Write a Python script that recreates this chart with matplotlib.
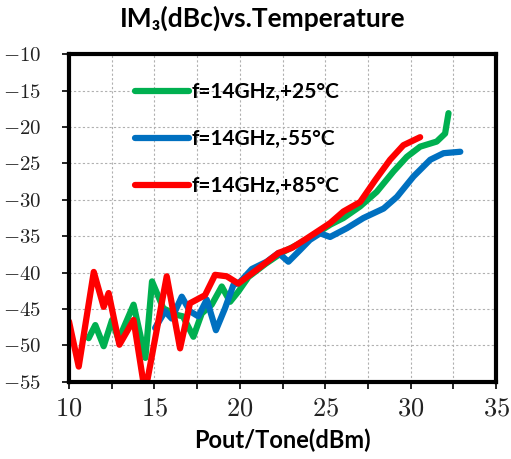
import numpy as np
import matplotlib
matplotlib.use("Agg")
import matplotlib.pyplot as plt
from matplotlib.ticker import MultipleLocator

# +25 C (green)
x_25 = [11.15, 11.54, 12.03, 12.52, 12.9, 13.78, 14.47, 14.86, 15.52, 16.3, 16.67,
        17.28, 17.77, 18.35, 18.94, 19.43, 19.91, 20.5, 21.5, 22.5, 23.5, 24.5,
        25.3, 26.06, 27.04, 28.01, 28.99, 29.77, 30.55, 31.52, 32.01, 32.21]
y_25 = [-49.0, -47.2, -50.1, -46.5, -49.2, -44.4, -51.7, -41.2, -44.9, -45.8, -46.0,
        -48.8, -45.6, -44.4, -41.9, -44.0, -42.6, -40.6, -38.8, -37.2, -36.0, -34.6,
        -33.4, -32.5, -30.9, -28.9, -26.1, -24.1, -22.7, -22.0, -20.9, -18.1]

# -55 C (blue)
x_m55 = [15.04, 15.62, 16.01, 16.6, 17.08, 17.57, 18.06, 18.6, 19.13, 19.62, 20.0,
         20.7, 21.57, 22.26, 22.84, 23.52, 24.1, 24.7, 25.28, 26.26, 27.23, 28.41,
         29.19, 30.16, 31.14, 31.92, 32.9]
y_m55 = [-47.6, -45.3, -46.3, -43.3, -45.3, -46.0, -43.7, -47.9, -44.9, -41.7, -41.3,
         -39.5, -38.5, -37.3, -38.5, -36.9, -35.5, -34.6, -35.1, -33.9, -32.5, -31.2,
         -29.6, -26.8, -24.5, -23.6, -23.4]

# +85 C (red)
x_85 = [10.0, 10.57, 11.45, 12.03, 12.32, 12.95, 13.78, 14.45, 15.72, 16.5, 17.08,
        17.96, 18.55, 19.23, 19.91, 20.99, 22.26, 23.04, 23.92, 25.28, 26.06, 27.04,
        27.92, 28.79, 29.57, 30.55]
y_85 = [-46.7, -52.9, -39.9, -44.7, -42.8, -49.9, -46.5, -56.5, -40.5, -50.4, -44.2,
        -43.1, -40.3, -40.5, -41.5, -39.6, -37.3, -36.6, -35.3, -33.2, -31.6, -30.3,
        -27.3, -24.5, -22.5, -21.4]

labels = ["f=14GHz,+25°C", "f=14GHz,-55°C", "f=14GHz,+85°C"]
colors = ["#00B050", "#0070C0", "#FF0000"]

plt.rcParams["axes.formatter.use_mathtext"] = True
sans = ["Lato", "DejaVu Sans"]

fig = plt.figure(figsize=(5.11, 4.59), dpi=100)
ax = fig.add_axes([0.135, 0.168, 0.836, 0.714])

series = [(x_25, y_25), (x_m55, y_m55), (x_85, y_85)]
for (xs, ys), lab, c in zip(series, labels, colors):
    ax.plot(xs, ys, color=c, lw=4.5, label=lab, solid_capstyle="round",
            solid_joinstyle="round")

ax.set_xlim(10, 35)
ax.set_ylim(-55, -10)
ax.xaxis.set_major_locator(MultipleLocator(5))
ax.xaxis.set_minor_locator(MultipleLocator(2.5))
ax.yaxis.set_major_locator(MultipleLocator(5))
ax.grid(True, which="both", axis="x", color="#b0b0b0", ls=(0, (2, 2)), lw=0.8)
ax.grid(True, which="major", axis="y", color="#b0b0b0", ls=(0, (2, 2)), lw=0.8)
ax.set_axisbelow(True)

for s in ax.spines.values():
    s.set_linewidth(3)
ax.tick_params(which="both", direction="out", length=5, width=1.2)
ax.tick_params(axis="x", labelsize=19, pad=6)
ax.tick_params(axis="y", labelsize=15, pad=15)
for lbl in ax.get_xticklabels() + ax.get_yticklabels():
    lbl.set_fontfamily("cmr10")
    lbl.set_color("#222222")

ax.set_xlabel("Pout/Tone(dBm)", fontsize=17, fontweight="bold", family=sans)
ax.xaxis.set_label_coords(0.5, -0.177)
ax.xaxis.label.set_va("center")
fig.text(0.515, 0.96, "IM₃(dBc)vs.Temperature", ha="center", va="center",
         fontsize=19, fontweight="bold", family=sans)

ax.legend(loc="upper left", bbox_to_anchor=(0.155, 0.915), frameon=False,
          handlelength=2.6, handletextpad=0.1, labelspacing=1.3,
          borderpad=0, borderaxespad=0,
          prop={"family": sans, "weight": "bold", "size": 15})

fig.savefig("out.png", dpi=100)
